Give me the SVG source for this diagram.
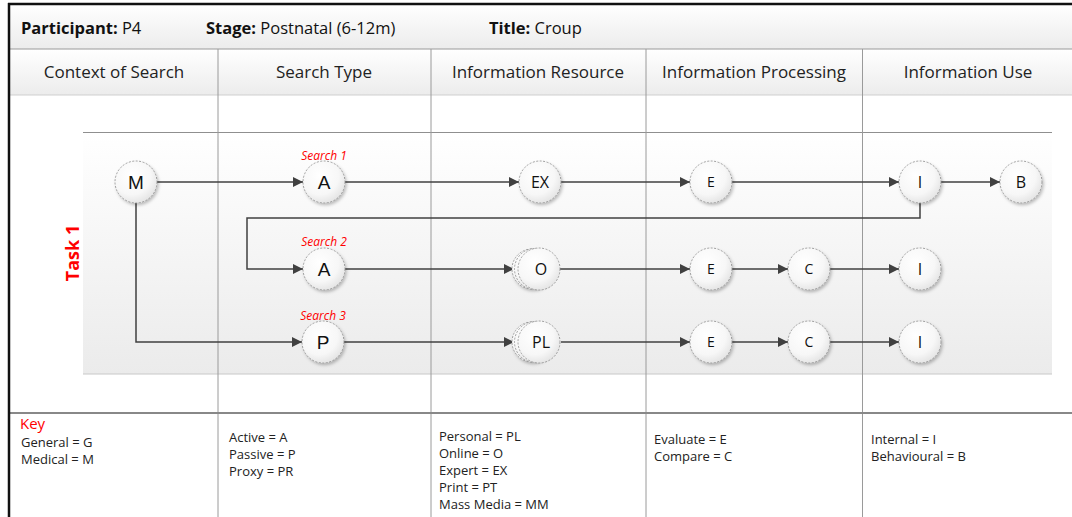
<svg xmlns="http://www.w3.org/2000/svg" width="1072" height="517" viewBox="0 0 1072 517">
  <defs>
    <linearGradient id="hdr" x1="0" y1="0" x2="0" y2="1">
      <stop offset="0" stop-color="#ffffff"/>
      <stop offset="1" stop-color="#ececec"/>
    </linearGradient>
    <linearGradient id="band" x1="0" y1="0" x2="0" y2="1">
      <stop offset="0" stop-color="#ffffff"/>
      <stop offset="1" stop-color="#ebebeb"/>
    </linearGradient>
    <radialGradient id="ball" cx="0.4" cy="0.35" r="0.75">
      <stop offset="0" stop-color="#ffffff"/>
      <stop offset="0.6" stop-color="#f7f7f7"/>
      <stop offset="1" stop-color="#dedede"/>
    </radialGradient>
    <filter id="shadow" x="-30%" y="-30%" width="160%" height="160%">
      <feDropShadow dx="1.5" dy="2" stdDeviation="1.5" flood-color="#000" flood-opacity="0.25"/>
    </filter>
    <marker id="arrow" viewBox="0 0 10 10" refX="10" refY="5" markerWidth="10" markerHeight="10" markerUnits="userSpaceOnUse" orient="auto">
      <path d="M0,0 L10,5 L0,10 z" fill="#404040"/>
    </marker>
  </defs>
  <style>
    .hdr { font-family: "Open Sans", "Liberation Sans", sans-serif; font-size: 16.5px; fill: #111; }
    .col { font-family: "Open Sans", "Liberation Sans", sans-serif; font-size: 17px; fill: #222; text-anchor: middle; }
    .grid { stroke: #9a9a9a; stroke-width: 1; fill: none; }
    .node circle { fill: url(#ball); stroke: #8a8a8a; stroke-width: 0.8; stroke-dasharray: 2 1.5; }
    .node .c0 { filter: url(#shadow); }
    .big { font-family: "Liberation Sans", Arial, sans-serif; font-size: 19px; fill: #111; text-anchor: middle; }
    .mid { font-family: "Open Sans", "Liberation Sans", sans-serif; font-size: 16px; fill: #111; text-anchor: middle; }
    .small { font-family: "Open Sans", "Liberation Sans", sans-serif; font-size: 14px; fill: #111; text-anchor: middle; }
    .search { font-family: "Open Sans", "Liberation Sans", sans-serif; font-size: 12px; font-style: italic; fill: #ff0000; text-anchor: middle; }
    .edge { stroke: #404040; stroke-width: 1.5; fill: none; marker-end: url(#arrow); }
    .key { font-family: "Open Sans", "Liberation Sans", sans-serif; font-size: 13px; fill: #222; }
  </style>

  <rect x="0" y="0" width="1072" height="517" fill="#ffffff"/>

  <!-- header rows -->
  <rect x="9" y="4" width="1063" height="45" fill="url(#hdr)"/>
  <rect x="9" y="49" width="1063" height="46" fill="url(#hdr)"/>
  <line x1="9" y1="49" x2="1072" y2="49" class="grid"/>
  <line x1="9" y1="95" x2="1072" y2="95" stroke="#cfcfcf" stroke-width="1"/>

  <!-- task band -->
  <rect x="83" y="132" width="969" height="242" fill="url(#band)"/>
  <line x1="83" y1="132.5" x2="1052" y2="132.5" stroke="#8f8f8f" stroke-width="1"/>
  <line x1="83" y1="374" x2="1052" y2="374" stroke="#c8c8c8" stroke-width="1"/>

  <!-- column separators -->
  <g class="grid">
    <line x1="218" y1="49" x2="218" y2="517"/>
    <line x1="431" y1="49" x2="431" y2="517"/>
    <line x1="646" y1="49" x2="646" y2="517"/>
    <line x1="862.5" y1="49" x2="862.5" y2="517"/>
  </g>

  <!-- key row separator -->
  <line x1="9" y1="413" x2="1072" y2="413" stroke="#888" stroke-width="2"/>

  <!-- outer frame -->
  <line x1="8" y1="4" x2="1072" y2="4" stroke="#111" stroke-width="2.5"/>
  <line x1="9" y1="3" x2="9" y2="517" stroke="#111" stroke-width="2.5"/>

  <!-- header texts -->
  <text class="hdr" x="21" y="34"><tspan font-weight="bold">Participant:</tspan> P4</text>
  <text class="hdr" x="206" y="34"><tspan font-weight="bold">Stage:</tspan> Postnatal (6-12m)</text>
  <text class="hdr" x="489" y="34"><tspan font-weight="bold">Title:</tspan> Croup</text>

  <text class="col" x="114" y="78">Context of Search</text>
  <text class="col" x="324" y="78">Search Type</text>
  <text class="col" x="538" y="78">Information Resource</text>
  <text class="col" x="754" y="78">Information Processing</text>
  <text class="col" x="968" y="78">Information Use</text>

  <text x="72" y="253" transform="rotate(-90 72 253)" font-family="'Open Sans', 'Liberation Sans', sans-serif" font-size="18" font-weight="bold" fill="#ff0000" text-anchor="middle" dominant-baseline="central">Task 1</text>

  <!-- search labels -->
  <text class="search" x="324" y="160">Search 1</text>
  <text class="search" x="324" y="246">Search 2</text>
  <text class="search" x="323" y="320">Search 3</text>

  <!-- connectors -->
  <g id="connectors">
    <path class="edge" d="M157,182 H303"/>
    <path class="edge" d="M345,182 H519"/>
    <path class="edge" d="M561,182 H690"/>
    <path class="edge" d="M732,182 H899"/>
    <path class="edge" d="M941,182 H1000"/>
    <path class="edge" d="M920,203 V218 H247 V269 H303"/>
    <path class="edge" d="M345,269 H514"/>
    <path class="edge" d="M560,269 H690"/>
    <path class="edge" d="M732,269 H788"/>
    <path class="edge" d="M830,269 H899"/>
    <path class="edge" d="M136,203 V342 H302"/>
    <path class="edge" d="M344,342 H514"/>
    <path class="edge" d="M561,342 H690"/>
    <path class="edge" d="M732,342 H788"/>
    <path class="edge" d="M830,342 H899"/>
  </g>

  <!-- nodes -->
  <g id="n-m" class="node"><circle class="c0" cx="136" cy="182" r="21"/><text class="big" x="136" y="189">M</text></g>
  <g id="n-a1" class="node"><circle class="c0" cx="324" cy="182" r="21"/><text class="big" x="324" y="189">A</text></g>
  <g id="n-ex" class="node"><circle class="c0" cx="540" cy="182" r="21"/><text class="mid" x="540" y="188">EX</text></g>
  <g id="n-e1" class="node"><circle class="c0" cx="711" cy="182" r="21"/><text class="small" x="711" y="187">E</text></g>
  <g id="n-i1" class="node"><circle class="c0" cx="920" cy="182" r="21"/><text class="mid" x="920" y="188">I</text></g>
  <g id="n-b" class="node"><circle class="c0" cx="1021" cy="182" r="21"/><text class="mid" x="1021" y="188">B</text></g>

  <g id="n-a2" class="node"><circle class="c0" cx="324" cy="269" r="21"/><text class="big" x="324" y="276">A</text></g>
  <g id="n-o" class="node">
    <circle class="c0" cx="532" cy="269" r="20"/>
    <circle cx="535" cy="269" r="20.5"/>
    <circle cx="539" cy="269" r="21"/>
    <text class="mid" x="541" y="275">O</text>
  </g>
  <g id="n-e2" class="node"><circle class="c0" cx="711" cy="269" r="21"/><text class="small" x="711" y="274">E</text></g>
  <g id="n-c2" class="node"><circle class="c0" cx="809" cy="269" r="21"/><text class="small" x="809" y="274">C</text></g>
  <g id="n-i2" class="node"><circle class="c0" cx="920" cy="269" r="21"/><text class="mid" x="920" y="275">I</text></g>

  <g id="n-p" class="node"><circle class="c0" cx="323" cy="342" r="21"/><text class="big" x="323" y="349">P</text></g>
  <g id="n-pl" class="node">
    <circle class="c0" cx="532" cy="342" r="20"/>
    <circle cx="535" cy="342" r="20.5"/>
    <circle cx="539" cy="342" r="21"/>
    <text class="mid" x="541" y="348">PL</text>
  </g>
  <g id="n-e3" class="node"><circle class="c0" cx="711" cy="342" r="21"/><text class="small" x="711" y="347">E</text></g>
  <g id="n-c3" class="node"><circle class="c0" cx="809" cy="342" r="21"/><text class="small" x="809" y="347">C</text></g>
  <g id="n-i3" class="node"><circle class="c0" cx="920" cy="342" r="21"/><text class="mid" x="920" y="348">I</text></g>

  <!-- key -->
  <text x="20" y="429" font-family="'Open Sans', 'Liberation Sans', sans-serif" font-size="15" fill="#ff0000">Key</text>
  <text class="key" x="21" y="447">General = G</text>
  <text class="key" x="21" y="464">Medical = M</text>

  <text class="key" x="229" y="442">Active  = A</text>
  <text class="key" x="229" y="459">Passive = P</text>
  <text class="key" x="229" y="476">Proxy = PR</text>

  <text class="key" x="439" y="441">Personal = PL</text>
  <text class="key" x="439" y="458">Online  = O</text>
  <text class="key" x="439" y="475">Expert = EX</text>
  <text class="key" x="439" y="492">Print = PT</text>
  <text class="key" x="439" y="509">Mass Media = MM</text>

  <text class="key" x="654" y="444">Evaluate = E</text>
  <text class="key" x="654" y="461">Compare = C</text>

  <text class="key" x="871" y="444">Internal = I</text>
  <text class="key" x="871" y="461">Behavioural = B</text>
</svg>
